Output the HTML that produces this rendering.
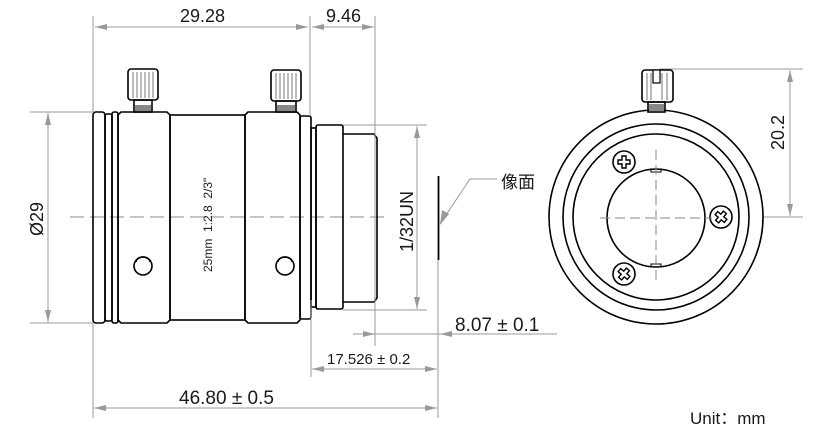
<!DOCTYPE html>
<html><head><meta charset="utf-8"><style>
html,body{margin:0;padding:0;background:#fff;}
svg{display:block;}
text{font-family:"Liberation Sans","Noto Sans CJK SC",sans-serif;}
</style></head><body>
<svg width="826" height="440" viewBox="0 0 826 440" xmlns="http://www.w3.org/2000/svg">
<defs>
<marker id="a" viewBox="0 0 12 6" refX="12" refY="3" markerWidth="12" markerHeight="6" orient="auto-start-reverse" markerUnits="userSpaceOnUse"><path d="M0,0 L12,3 L0,6 z" fill="#999"/></marker>
</defs>
<line x1="70" y1="217" x2="390" y2="217" stroke="#888" stroke-width="1" stroke-dasharray="14,6"/>
<g fill="none" stroke="#000" stroke-width="1.6">
<rect x="93" y="112" width="12" height="211" rx="3"/>
<rect x="105" y="114" width="7" height="207" rx="2"/>
<rect x="112" y="112" width="6" height="211" rx="2"/>
<path d="M118,115 L121,112 L167,112 L170,115 L170,320 L167,323 L121,323 L118,320 Z"/>
<rect x="170" y="115" width="75" height="205"/>
<path d="M245,115 L248,112 L297,112 L300,115 L300,320 L297,323 L248,323 L245,320 Z"/>
<rect x="300" y="116" width="11" height="203" rx="2"/>
<rect x="311" y="128" width="5" height="179"/>
<rect x="316" y="125" width="27" height="184" rx="2"/>
<path d="M343,134 L374,134 L377,138 L377,298 L374,302 L343,302"/>
<rect x="128" y="69" width="30" height="31" rx="3"/>
<rect x="134" y="100" width="18" height="12"/>
<rect x="271" y="70" width="30" height="31" rx="3"/>
<rect x="276" y="101" width="20" height="11"/>
<circle cx="143" cy="266" r="9"/>
<path d="M136,262 A7,5 0 0 1 150,262"/>
<circle cx="285" cy="266" r="9"/>
<path d="M278,262 A7,5 0 0 1 292,262"/>
</g>
<g stroke="#555" stroke-width="0.8">
<line x1="133" y1="72" x2="133" y2="98"/><line x1="137" y1="72" x2="137" y2="98"/><line x1="141" y1="72" x2="141" y2="98"/><line x1="145" y1="72" x2="145" y2="98"/><line x1="149" y1="72" x2="149" y2="98"/><line x1="153" y1="72" x2="153" y2="98"/>
<line x1="276" y1="73" x2="276" y2="99"/><line x1="280" y1="73" x2="280" y2="99"/><line x1="284" y1="73" x2="284" y2="99"/><line x1="288" y1="73" x2="288" y2="99"/><line x1="292" y1="73" x2="292" y2="99"/><line x1="296" y1="73" x2="296" y2="99"/>
</g>
<rect x="135" y="105" width="16" height="6" fill="#888"/>
<rect x="277" y="105" width="18" height="6" fill="#888"/>
<text x="0" y="0" font-size="12" fill="#1a1a1a" transform="translate(212,272) rotate(-90)" xml:space="preserve">25mm  1:2.8  2/3"</text>

<g stroke="#999" stroke-width="1" fill="none">
<line x1="93" y1="16" x2="93" y2="112"/>
<line x1="310" y1="16" x2="310" y2="116"/>
<line x1="375" y1="16" x2="375" y2="346"/>
<line x1="95" y1="27" x2="308" y2="27" marker-start="url(#a)" marker-end="url(#a)"/>
<line x1="312" y1="27" x2="374" y2="27" marker-start="url(#a)" marker-end="url(#a)"/>
<line x1="30" y1="112" x2="93" y2="112"/>
<line x1="30" y1="323" x2="93" y2="323"/>
<line x1="48" y1="113" x2="48" y2="322" marker-start="url(#a)" marker-end="url(#a)"/>
<line x1="343" y1="125" x2="427" y2="125"/>
<line x1="343" y1="310" x2="427" y2="310"/>
<line x1="417" y1="126" x2="417" y2="309" marker-start="url(#a)" marker-end="url(#a)"/>
<line x1="353" y1="334" x2="557" y2="334"/>
<line x1="360" y1="334" x2="375" y2="334" marker-end="url(#a)"/>
<line x1="455" y1="334" x2="440" y2="334" marker-end="url(#a)"/>
<line x1="311" y1="300" x2="311" y2="377"/>
<line x1="312" y1="369" x2="437" y2="369" marker-start="url(#a)" marker-end="url(#a)"/>
<line x1="438" y1="260" x2="438" y2="418"/>
<line x1="93" y1="323" x2="93" y2="418"/>
<line x1="94" y1="408" x2="437" y2="408" marker-start="url(#a)" marker-end="url(#a)"/>
<polyline points="497,179 470,179 440,224"/>
<line x1="660" y1="69" x2="803" y2="69"/>
<line x1="763" y1="217" x2="803" y2="217"/>
<line x1="790" y1="70" x2="790" y2="216" marker-start="url(#a)" marker-end="url(#a)"/>
</g>
<polygon points="440,225 442,210 449,214" fill="#999"/>
<line x1="438.5" y1="176" x2="438.5" y2="260" stroke="#000" stroke-width="1.8"/>

<g fill="#1a1a1a">
<text x="180" y="22" font-size="18">29.28</text>
<text x="326" y="22" font-size="18">9.46</text>
<text x="0" y="0" font-size="18" transform="translate(43,236) rotate(-90)">Ø29</text>
<text x="0" y="0" font-size="18" transform="translate(413,252) rotate(-90)">1/32UN</text>
<text x="455" y="331" font-size="19">8.07 ± 0.1</text>
<text x="327" y="364" font-size="15">17.526 ± 0.2</text>
<text x="179" y="404" font-size="19">46.80 ± 0.5</text>
<text x="501" y="188" font-size="17">像面</text>
<text x="0" y="0" font-size="18" transform="translate(784,150) rotate(-90)">20.2</text>
<text x="690" y="424" font-size="17">Unit：mm</text>
</g>

<g fill="none" stroke="#000" stroke-width="1.6">
<circle cx="656" cy="217" r="107"/>
<circle cx="656" cy="217" r="93"/>
<circle cx="656" cy="217" r="83"/>
<circle cx="656" cy="218" r="49"/>
<rect x="642" y="70" width="31" height="32" rx="3"/>
<rect x="648" y="102" width="17" height="10"/>
<circle cx="624" cy="162" r="11"/>
<circle cx="721" cy="217" r="11"/>
<circle cx="624" cy="274" r="11"/>
<rect x="651" y="169" width="10" height="3" stroke-width="1"/>
<rect x="651" y="264" width="10" height="3" stroke-width="1"/>
</g>
<g stroke="#555" stroke-width="0.8"><line x1="647" y1="73" x2="647" y2="100"/><line x1="651" y1="73" x2="651" y2="100"/><line x1="662" y1="73" x2="662" y2="100"/><line x1="667" y1="73" x2="667" y2="100"/></g>
<rect x="653" y="70" width="7" height="13" fill="#fff" stroke="#000" stroke-width="1.2"/>
<rect x="649" y="104" width="15" height="7" fill="#888"/>
<g stroke="#000" stroke-width="1.4" fill="none">
<path d="M618,160 h4 v-4 h4 v4 h4 v4 h-4 v4 h-4 v-4 h-4 z"/>
<g transform="translate(721,217) rotate(40)"><path d="M-6,-2 h4 v-4 h4 v4 h4 v4 h-4 v4 h-4 v-4 h-4 z"/></g>
<g transform="translate(624,274) rotate(40)"><path d="M-6,-2 h4 v-4 h4 v4 h4 v4 h-4 v4 h-4 v-4 h-4 z"/></g>
</g>
<g stroke="#888" stroke-width="1" stroke-dasharray="10,5">
<line x1="600" y1="218" x2="712" y2="218"/>
<line x1="656" y1="150" x2="656" y2="285"/>
</g>
</svg>
</body></html>
